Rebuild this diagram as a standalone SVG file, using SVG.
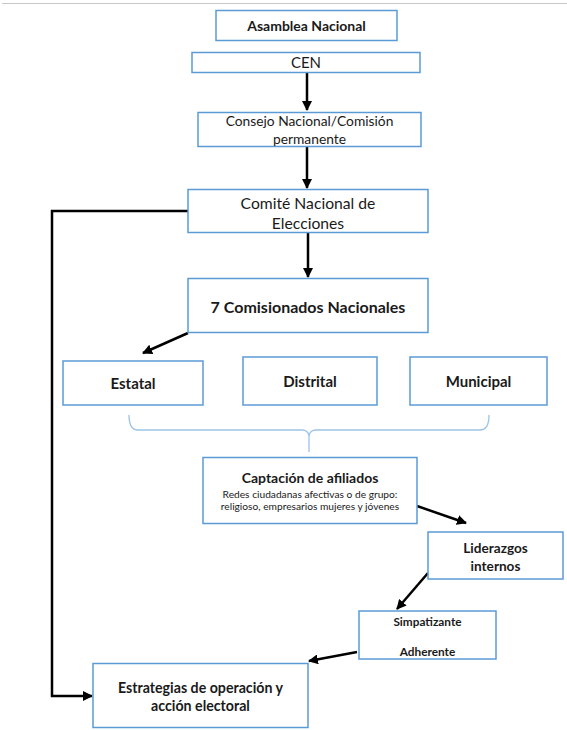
<svg xmlns="http://www.w3.org/2000/svg" width="567" height="730" viewBox="0 0 567 730">
  <style>
    .box { fill: #ffffff; stroke: #5b9bd5; stroke-width: 1.5; }
    .t { font-family: Lato, "Open Sans", "Liberation Sans", sans-serif; fill: #1a1a1a; text-anchor: middle; }
    .b { font-weight: bold; }
    .link { fill: none; stroke: #000000; stroke-width: 2.5; }
    .brace { fill: none; stroke: #9dc3e6; stroke-width: 1.3; }
  </style>
  <defs>
    <marker id="arrow" viewBox="0 0 10 10" refX="9" refY="5" markerWidth="4" markerHeight="4" orient="auto" markerUnits="strokeWidth">
      <path d="M0,0 L10,5 L0,10 z" fill="#000000"/>
    </marker>
  </defs>

  <rect width="567" height="730" fill="#ffffff"/>
  <line x1="2" y1="3.5" x2="567" y2="3.5" stroke="#c8c8c8" stroke-width="1"/>

  <!-- connectors -->
  <g id="connectors">
    <line class="link" x1="307" y1="72" x2="307" y2="110" marker-end="url(#arrow)"/>
    <line class="link" x1="307" y1="147" x2="307" y2="188" marker-end="url(#arrow)"/>
    <line class="link" x1="308" y1="233" x2="308" y2="277" marker-end="url(#arrow)"/>
    <line class="link" x1="188" y1="333" x2="143" y2="353" marker-end="url(#arrow)"/>
    <line class="link" x1="417" y1="506" x2="466" y2="523" marker-end="url(#arrow)"/>
    <line class="link" x1="428" y1="573" x2="397" y2="609" marker-end="url(#arrow)"/>
    <line class="link" x1="357" y1="652" x2="309" y2="661" marker-end="url(#arrow)"/>
    <polyline class="link" points="188,211 52,211 52,696 92,696" marker-end="url(#arrow)"/>
    <path class="brace" d="M129,415 Q129,430 138,430 L302,430 Q308,430 309,436 Q310,430 316,430 L480,430 Q489,430 489,415 M309,436 L309,452"/>
  </g>

  <g id="asamblea">
    <rect class="box" x="216" y="10.5" width="181" height="30"/>
    <text class="t b" x="306.5" y="30.5" font-size="14">Asamblea Nacional</text>
  </g>
  <g id="cen">
    <rect class="box" x="192" y="52.5" width="228" height="20"/>
    <text class="t" x="306" y="68" font-size="15">CEN</text>
  </g>
  <g id="consejo">
    <rect class="box" x="198" y="112.5" width="223" height="34"/>
    <text class="t" x="309.5" y="125.5" font-size="13.8">Consejo Nacional/Comisión</text>
    <text class="t" x="309.5" y="143.5" font-size="13.8">permanente</text>
  </g>
  <g id="comite">
    <rect class="box" x="188" y="189.5" width="240" height="43"/>
    <text class="t" x="308" y="208.5" font-size="15.7">Comité Nacional de</text>
    <text class="t" x="308" y="228.5" font-size="15.7">Elecciones</text>
  </g>
  <g id="comisionados">
    <rect class="box" x="188" y="278.5" width="240" height="54"/>
    <text class="t b" x="308" y="312.5" font-size="16">7 Comisionados Nacionales</text>
  </g>
  <g id="estatal">
    <rect class="box" x="63" y="361" width="140" height="44"/>
    <text class="t b" x="133" y="388.5" font-size="15">Estatal</text>
  </g>
  <g id="distrital">
    <rect class="box" x="243" y="357" width="134" height="48"/>
    <text class="t b" x="310" y="386.5" font-size="15">Distrital</text>
  </g>
  <g id="municipal">
    <rect class="box" x="410" y="357" width="137" height="48"/>
    <text class="t b" x="478.5" y="386.5" font-size="15">Municipal</text>
  </g>
  <g id="captacion">
    <rect class="box" x="203" y="457.5" width="214" height="66"/>
    <text class="t b" x="310" y="483" font-size="14">Captación de afiliados</text>
    <text class="t" x="310" y="497.5" font-size="10.2">Redes ciudadanas afectivas o de grupo:</text>
    <text class="t" x="310" y="509.5" font-size="10.2">religioso, empresarios mujeres y jóvenes</text>
  </g>
  <g id="liderazgos">
    <rect class="box" x="428" y="532" width="135" height="47"/>
    <text class="t b" x="495.5" y="552.5" font-size="13.6">Liderazgos</text>
    <text class="t b" x="495.5" y="570.5" font-size="13.6">internos</text>
  </g>
  <g id="simpatizante">
    <rect class="box" x="359" y="611" width="137" height="48"/>
    <text class="t b" x="427.5" y="625.5" font-size="11.8">Simpatizante</text>
    <text class="t b" x="427.5" y="655.5" font-size="11.8">Adherente</text>
  </g>
  <g id="estrategias">
    <rect class="box" x="93" y="663.5" width="215" height="64"/>
    <text class="t b" x="200.5" y="692.5" font-size="14.2">Estrategias de operación y</text>
    <text class="t b" x="200.5" y="710.5" font-size="14.2">acción electoral</text>
  </g>
</svg>
